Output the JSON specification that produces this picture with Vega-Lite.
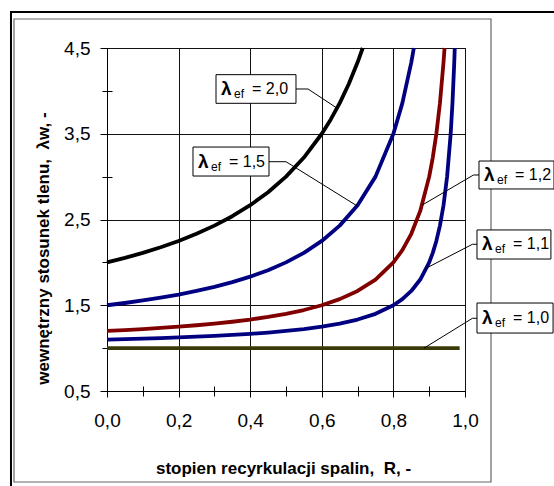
{
  "$schema": "https://vega.github.io/schema/vega-lite/v6.json",
  "width": 358,
  "height": 343,
  "autosize": {"type": "none"},
  "padding": {"left": 107, "top": 48, "right": 89, "bottom": 95},
  "background": "white",
  "config": {
    "view": {"stroke": "#000", "strokeWidth": 1},
    "font": "Liberation Sans",
    "axis": {"labelFont": "Liberation Sans", "titleFont": "Liberation Sans", "labelColor": "#000", "titleColor": "#000", "tickColor": "#000", "domainColor": "#000"}
  },
  "datasets": {
    "frames": [
      {"f": "outer", "x1": -0.2682, "x2": 1.5, "y1": 4.92, "y2": -1.0},
      {"f": "inner", "x1": -0.2598, "x2": 1.0726, "y1": 4.838, "y2": -0.561}
    ],
    "curves": [
      {"s": "2,0", "R": 0, "L": 2.0}, {"s": "2,0", "R": 0.05, "L": 2.0526}, {"s": "2,0", "R": 0.1, "L": 2.1111}, {"s": "2,0", "R": 0.15, "L": 2.1765}, {"s": "2,0", "R": 0.2, "L": 2.25}, {"s": "2,0", "R": 0.25, "L": 2.3333}, {"s": "2,0", "R": 0.3, "L": 2.4286}, {"s": "2,0", "R": 0.35, "L": 2.5385}, {"s": "2,0", "R": 0.4, "L": 2.6667}, {"s": "2,0", "R": 0.45, "L": 2.8182}, {"s": "2,0", "R": 0.5, "L": 3.0}, {"s": "2,0", "R": 0.55, "L": 3.2222}, {"s": "2,0", "R": 0.6, "L": 3.5}, {"s": "2,0", "R": 0.625, "L": 3.6667}, {"s": "2,0", "R": 0.65, "L": 3.8571}, {"s": "2,0", "R": 0.675, "L": 4.0769}, {"s": "2,0", "R": 0.7, "L": 4.3333}, {"s": "2,0", "R": 0.7143, "L": 4.5},
      {"s": "1,5", "R": 0, "L": 1.5}, {"s": "1,5", "R": 0.05, "L": 1.5263}, {"s": "1,5", "R": 0.1, "L": 1.5556}, {"s": "1,5", "R": 0.15, "L": 1.5882}, {"s": "1,5", "R": 0.2, "L": 1.625}, {"s": "1,5", "R": 0.25, "L": 1.6667}, {"s": "1,5", "R": 0.3, "L": 1.7143}, {"s": "1,5", "R": 0.35, "L": 1.7692}, {"s": "1,5", "R": 0.4, "L": 1.8333}, {"s": "1,5", "R": 0.45, "L": 1.9091}, {"s": "1,5", "R": 0.5, "L": 2.0}, {"s": "1,5", "R": 0.55, "L": 2.1111}, {"s": "1,5", "R": 0.6, "L": 2.25}, {"s": "1,5", "R": 0.65, "L": 2.4286}, {"s": "1,5", "R": 0.7, "L": 2.6667}, {"s": "1,5", "R": 0.75, "L": 3.0}, {"s": "1,5", "R": 0.8, "L": 3.5}, {"s": "1,5", "R": 0.825, "L": 3.8571}, {"s": "1,5", "R": 0.85, "L": 4.3333}, {"s": "1,5", "R": 0.8571, "L": 4.5},
      {"s": "1,2", "R": 0, "L": 1.2}, {"s": "1,2", "R": 0.05, "L": 1.2105}, {"s": "1,2", "R": 0.1, "L": 1.2222}, {"s": "1,2", "R": 0.15, "L": 1.2353}, {"s": "1,2", "R": 0.2, "L": 1.25}, {"s": "1,2", "R": 0.25, "L": 1.2667}, {"s": "1,2", "R": 0.3, "L": 1.2857}, {"s": "1,2", "R": 0.35, "L": 1.3077}, {"s": "1,2", "R": 0.4, "L": 1.3333}, {"s": "1,2", "R": 0.45, "L": 1.3636}, {"s": "1,2", "R": 0.5, "L": 1.4}, {"s": "1,2", "R": 0.55, "L": 1.4444}, {"s": "1,2", "R": 0.6, "L": 1.5}, {"s": "1,2", "R": 0.65, "L": 1.5714}, {"s": "1,2", "R": 0.7, "L": 1.6667}, {"s": "1,2", "R": 0.75, "L": 1.8}, {"s": "1,2", "R": 0.8, "L": 2.0}, {"s": "1,2", "R": 0.825, "L": 2.1429}, {"s": "1,2", "R": 0.85, "L": 2.3333}, {"s": "1,2", "R": 0.875, "L": 2.6}, {"s": "1,2", "R": 0.9, "L": 3.0}, {"s": "1,2", "R": 0.91, "L": 3.2222}, {"s": "1,2", "R": 0.92, "L": 3.5}, {"s": "1,2", "R": 0.93, "L": 3.8571}, {"s": "1,2", "R": 0.94, "L": 4.3333}, {"s": "1,2", "R": 0.9429, "L": 4.5},
      {"s": "1,1", "R": 0, "L": 1.1}, {"s": "1,1", "R": 0.05, "L": 1.1053}, {"s": "1,1", "R": 0.1, "L": 1.1111}, {"s": "1,1", "R": 0.15, "L": 1.1176}, {"s": "1,1", "R": 0.2, "L": 1.125}, {"s": "1,1", "R": 0.25, "L": 1.1333}, {"s": "1,1", "R": 0.3, "L": 1.1429}, {"s": "1,1", "R": 0.35, "L": 1.1538}, {"s": "1,1", "R": 0.4, "L": 1.1667}, {"s": "1,1", "R": 0.45, "L": 1.1818}, {"s": "1,1", "R": 0.5, "L": 1.2}, {"s": "1,1", "R": 0.55, "L": 1.2222}, {"s": "1,1", "R": 0.6, "L": 1.25}, {"s": "1,1", "R": 0.65, "L": 1.2857}, {"s": "1,1", "R": 0.7, "L": 1.3333}, {"s": "1,1", "R": 0.75, "L": 1.4}, {"s": "1,1", "R": 0.8, "L": 1.5}, {"s": "1,1", "R": 0.825, "L": 1.5714}, {"s": "1,1", "R": 0.85, "L": 1.6667}, {"s": "1,1", "R": 0.875, "L": 1.8}, {"s": "1,1", "R": 0.9, "L": 2.0}, {"s": "1,1", "R": 0.91, "L": 2.1111}, {"s": "1,1", "R": 0.92, "L": 2.25}, {"s": "1,1", "R": 0.93, "L": 2.4286}, {"s": "1,1", "R": 0.94, "L": 2.6667}, {"s": "1,1", "R": 0.95, "L": 3.0}, {"s": "1,1", "R": 0.96, "L": 3.5}, {"s": "1,1", "R": 0.965, "L": 3.8571}, {"s": "1,1", "R": 0.97, "L": 4.3333}, {"s": "1,1", "R": 0.9714, "L": 4.5},
      {"s": "1,0", "R": 0, "L": 1.0}, {"s": "1,0", "R": 0.1, "L": 1.0}, {"s": "1,0", "R": 0.2, "L": 1.0}, {"s": "1,0", "R": 0.3, "L": 1.0}, {"s": "1,0", "R": 0.4, "L": 1.0}, {"s": "1,0", "R": 0.5, "L": 1.0}, {"s": "1,0", "R": 0.6, "L": 1.0}, {"s": "1,0", "R": 0.7, "L": 1.0}, {"s": "1,0", "R": 0.8, "L": 1.0}, {"s": "1,0", "R": 0.9, "L": 1.0}, {"s": "1,0", "R": 0.985, "L": 1.0}
    ],
    "labels": [
      {"s": "2,0", "x1": 0.3045, "x2": 0.5279, "y1": 4.189, "y2": 3.855, "ym": 4.022, "txt": "= 2,0"},
      {"s": "1,5", "x1": 0.2402, "x2": 0.4525, "y1": 3.345, "y2": 3.007, "ym": 3.176, "txt": "= 1,5"},
      {"s": "1,2", "x1": 1.0391, "x2": 1.2486, "y1": 3.182, "y2": 2.856, "ym": 3.019, "txt": "= 1,2"},
      {"s": "1,1", "x1": 1.0335, "x2": 1.240, "y1": 2.378, "y2": 2.039, "ym": 2.2085, "txt": "= 1,1"},
      {"s": "1,0", "x1": 1.0335, "x2": 1.246, "y1": 1.526, "y2": 1.176, "ym": 1.351, "txt": "= 1,0"}
    ],
    "leaders": [
      {"s": "2,0", "o": 1, "R": 0.5279, "L": 4.022}, {"s": "2,0", "o": 2, "R": 0.5615, "L": 4.022}, {"s": "2,0", "o": 3, "R": 0.642, "L": 3.80},
      {"s": "1,5", "o": 1, "R": 0.4525, "L": 3.174}, {"s": "1,5", "o": 2, "R": 0.5, "L": 3.174}, {"s": "1,5", "o": 3, "R": 0.698, "L": 2.66},
      {"s": "1,2", "o": 1, "R": 1.0391, "L": 3.019}, {"s": "1,2", "o": 2, "R": 1.0237, "L": 3.019}, {"s": "1,2", "o": 3, "R": 0.88, "L": 2.667},
      {"s": "1,1", "o": 1, "R": 1.0335, "L": 2.211}, {"s": "1,1", "o": 2, "R": 1.0207, "L": 2.211}, {"s": "1,1", "o": 3, "R": 0.8905, "L": 1.93},
      {"s": "1,0", "o": 1, "R": 1.0335, "L": 1.348}, {"s": "1,0", "o": 2, "R": 1.0207, "L": 1.348}, {"s": "1,0", "o": 3, "R": 0.8855, "L": 1.0}
    ]
  },
  "resolve": {"axis": {"x": "independent", "y": "independent"}},
  "layer": [
    {
      "data": {"name": "frames"},
      "transform": [{"filter": "datum.f === 'outer'"}],
      "mark": {"type": "rect", "fill": null, "fillOpacity": 0, "stroke": "#000", "strokeWidth": 2},
      "encoding": {
        "x": {
          "field": "x1", "type": "quantitative",
          "scale": {"domain": [0, 1], "nice": false, "zero": false},
          "axis": {
            "orient": "bottom",
            "values": [0, 0.2, 0.4, 0.6, 0.8, 1.0],
            "labelExpr": "replace(format(datum.value, '.1f'), '.', ',')",
            "labelFontSize": 19, "labelPadding": 14, "labelFlush": false, "labelOverlap": false, "labelBound": false,
            "tickSize": 6, "tickWidth": 1,
            "grid": true, "gridColor": "#111", "gridWidth": 1, "gridOpacity": 1,
            "domain": true, "domainWidth": 1,
            "title": "stopien recyrkulacji spalin,\u00a0\u00a0R, -",
            "titleFontSize": 17, "titleFontWeight": "bold",
            "titleX": 176, "titleY": 77, "titleBaseline": "middle", "titleAlign": "center", "titleAnchor": null
          }
        },
        "x2": {"field": "x2"},
        "y": {
          "field": "y1", "type": "quantitative",
          "scale": {"domain": [0.5, 4.5], "nice": false, "zero": false},
          "axis": {
            "orient": "left",
            "values": [0.5, 1.5, 2.5, 3.5, 4.5],
            "labelExpr": "replace(format(datum.value, '.1f'), '.', ',')",
            "labelFontSize": 19, "labelPadding": 10, "labelFlush": false, "labelOverlap": false, "labelBound": false,
            "tickSize": 7, "tickWidth": 1,
            "grid": true, "gridColor": "#111", "gridWidth": 1, "gridOpacity": 1,
            "domain": true, "domainWidth": 1,
            "title": "wewnętrzny stosunek tlenu,\u00a0\u00a0λw, -",
            "titleFontSize": 17, "titleFontWeight": "bold",
            "titleX": -64, "titleY": 200, "titleAngle": -90, "titleBaseline": "middle", "titleAlign": "center", "titleAnchor": null
          }
        },
        "y2": {"field": "y2"}
      }
    },
    {
      "data": {"name": "frames"},
      "transform": [{"filter": "datum.f === 'inner'"}],
      "mark": {"type": "rect", "fill": null, "fillOpacity": 0, "stroke": "#666", "strokeWidth": 1.2},
      "encoding": {
        "x": {"field": "x1", "type": "quantitative", "axis": {"orient": "bottom", "values": [0.1, 0.3, 0.5, 0.7, 0.9], "tickSize": 5, "tickWidth": 1, "labels": false, "domain": false, "grid": false, "title": null}},
        "x2": {"field": "x2"},
        "y": {"field": "y1", "type": "quantitative", "axis": {"orient": "left", "values": [1, 2, 3, 4], "tickSize": 5, "tickWidth": 1, "labels": false, "domain": false, "grid": false, "title": null}},
        "y2": {"field": "y2"}
      }
    },
    {
      "data": {"name": "curves"},
      "mark": {"type": "line", "strokeWidth": 3.8, "strokeCap": "butt", "strokeJoin": "round"},
      "encoding": {
        "x": {"field": "R", "type": "quantitative", "axis": {"orient": "bottom", "values": [0.1, 0.3, 0.5, 0.7, 0.9], "tickSize": -5, "tickWidth": 1, "labels": false, "domain": false, "grid": false, "title": null}},
        "y": {"field": "L", "type": "quantitative", "axis": {"orient": "left", "values": [1, 2, 3, 4], "tickSize": -5, "tickWidth": 1, "labels": false, "domain": false, "grid": false, "title": null}},
        "color": {"field": "s", "type": "nominal", "scale": {"domain": ["2,0", "1,5", "1,2", "1,1", "1,0"], "range": ["#000000", "#000080", "#800000", "#000080", "#3a3a08"]}, "legend": null},
        "order": {"field": "R", "type": "quantitative"}
      }
    },
    {
      "data": {"name": "leaders"},
      "mark": {"type": "line", "stroke": "#000", "strokeWidth": 1},
      "encoding": {
        "x": {"field": "R", "type": "quantitative", "axis": null},
        "y": {"field": "L", "type": "quantitative", "axis": null},
        "detail": {"field": "s", "type": "nominal"},
        "order": {"field": "o", "type": "quantitative"}
      }
    },
    {
      "data": {"name": "labels"},
      "mark": {"type": "rect", "fill": "#fff", "stroke": "#000", "strokeWidth": 1},
      "encoding": {
        "x": {"field": "x1", "type": "quantitative", "axis": null},
        "x2": {"field": "x2"},
        "y": {"field": "y1", "type": "quantitative", "axis": null},
        "y2": {"field": "y2"}
      }
    },
    {
      "data": {"name": "labels"},
      "mark": {"type": "text", "text": "λ", "font": "Liberation Sans", "fontSize": 19, "fontWeight": "bold", "align": "left", "baseline": "middle", "dx": 5, "dy": 0, "color": "#000"},
      "encoding": {
        "x": {"field": "x1", "type": "quantitative", "axis": null},
        "y": {"field": "ym", "type": "quantitative", "axis": null}
      }
    },
    {
      "data": {"name": "labels"},
      "mark": {"type": "text", "text": "ef", "font": "Liberation Sans", "fontSize": 12, "align": "left", "baseline": "middle", "dx": 18, "dy": 5, "color": "#000"},
      "encoding": {
        "x": {"field": "x1", "type": "quantitative", "axis": null},
        "y": {"field": "ym", "type": "quantitative", "axis": null}
      }
    },
    {
      "data": {"name": "labels"},
      "mark": {"type": "text", "font": "Liberation Sans", "fontSize": 16, "align": "left", "baseline": "middle", "dx": 36, "dy": 0, "color": "#000"},
      "encoding": {
        "x": {"field": "x1", "type": "quantitative", "axis": null},
        "y": {"field": "ym", "type": "quantitative", "axis": null},
        "text": {"field": "txt", "type": "nominal"}
      }
    }
  ]
}
